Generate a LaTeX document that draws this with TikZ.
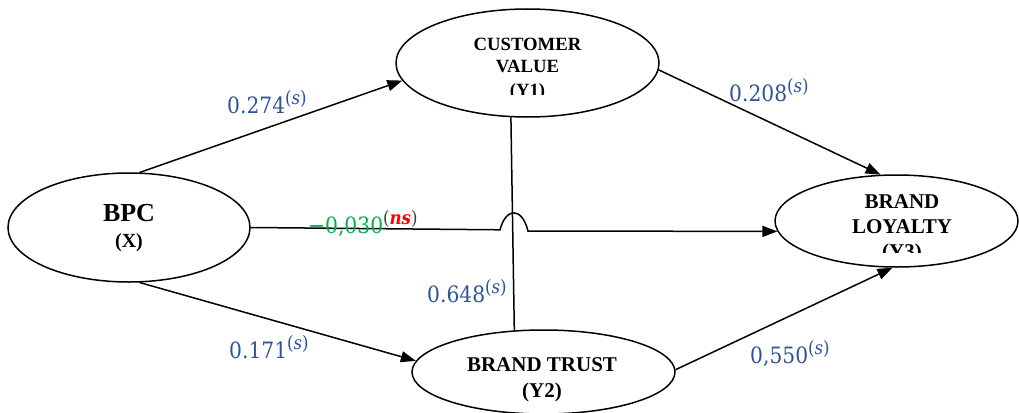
\documentclass[tikz,border=0pt]{standalone}
\usepackage{fontspec}
\newfontfamily\tnr{Liberation Serif}
\newfontfamily\lblf[FakeStretch=0.9]{DejaVu Serif}
\usetikzlibrary{shapes.geometric,arrows.meta}
\definecolor{lblblue}{HTML}{2F5496}
\definecolor{lblgreen}{HTML}{00B050}
\newcommand{\supx}[1]{\raisebox{8.5pt}{\fontsize{18.5}{18.5}\selectfont(#1)}}
\tikzset{
  ell/.style={ellipse, draw=black, line width=1.5pt, inner sep=0pt},
  conn/.style={draw=black, line width=1.5pt},
  arr/.style={conn, -{Triangle[length=15pt,width=11pt]}},
  big/.style={font=\tnr\bfseries\fontsize{26}{26}\selectfont, inner sep=0pt, anchor=base},
  mid/.style={font=\tnr\bfseries\fontsize{21}{21}\selectfont, inner sep=0pt, anchor=base},
  sml/.style={font=\tnr\bfseries\fontsize{18.7}{18.7}\selectfont, inner sep=0pt, anchor=base},
  xsml/.style={font=\tnr\bfseries\fontsize{20}{20}\selectfont, inner sep=0pt, anchor=base},
  lbl/.style={font=\lblf\fontsize{22.5}{22.5}\selectfont, text=lblblue, inner sep=0pt, anchor=base west},
}
\begin{document}
\begin{tikzpicture}[x=1pt,y=-1pt]
\useasboundingbox (0,0) rectangle (1019,412);
% ellipses
\node[ell, minimum width=242pt, minimum height=109pt] (bpc) at (129,227.5) {};
\node[ell, minimum width=263pt, minimum height=108pt] (cv) at (527.5,63) {};
\node[ell, minimum width=243pt, minimum height=92pt] (bl) at (896.5,221) {};
\node[ell, minimum width=263pt, minimum height=84pt] (bt) at (543.5,372) {};
% texts
\node[big] (bpc1) at (129,221) {BPC};
\node[xsml] (bpc2) at (129,247) {(X)};
\node[sml] (cv1) at (527.5,51) {CUSTOMER};
\node[sml] (cv2) at (527.5,73) {VALUE};
\begin{scope}
  \clip (420,78) rectangle (640,94.5);
  \node[sml] (cv3) at (527.5,96) {(Y1)};
\end{scope}
\node[mid] (bl1) at (902,208) {BRAND};
\node[mid] (bl2) at (902,233) {LOYALTY};
\begin{scope}
  \clip (800,236) rectangle (1000,252);
  \node[mid] (bl3) at (902,258) {(Y3)};
\end{scope}
\node[mid] (bt1) at (542,371) {BRAND TRUST};
\node[mid] (bt2) at (542,397) {(Y2)};
% connectors
\draw[arr] (bpc.79) -- (cv.188);
\draw[arr] (bpc.281.6) -- (bt.175);
\draw[arr] (cv.357) -- (bl.109.7);
\draw[arr] (bt.1.8) -- (bl.265.6);
\draw[conn] (cv.253) -- (bt.125.7);
\coordinate (j1) at (500,229.8);
\coordinate (j2) at (528,231);
\draw[arr] (bpc.0) -- (j1) .. controls (506,207) and (522,207) .. (j2) -- (bl.185);
% labels
\node[lbl] (l1) at (227,113) {0.274\supx{\textit{s}}};
\node[lbl] (l2) at (729,101) {0.208\supx{\textit{s}}};
\node[lbl] (l3) at (308,233) {\textcolor{lblgreen}{−0,030}\textcolor{black!75}{\supx{\textcolor{red}{\textbf{\textit{ns}}}}}};
\node[lbl] (l4) at (427,302) {0.648\supx{\textit{s}}};
\node[lbl] (l5) at (229,358) {0.171\supx{\textit{s}}};
\node[lbl] (l6) at (750,363) {0,550\supx{\textit{s}}};
\end{tikzpicture}
\end{document}
